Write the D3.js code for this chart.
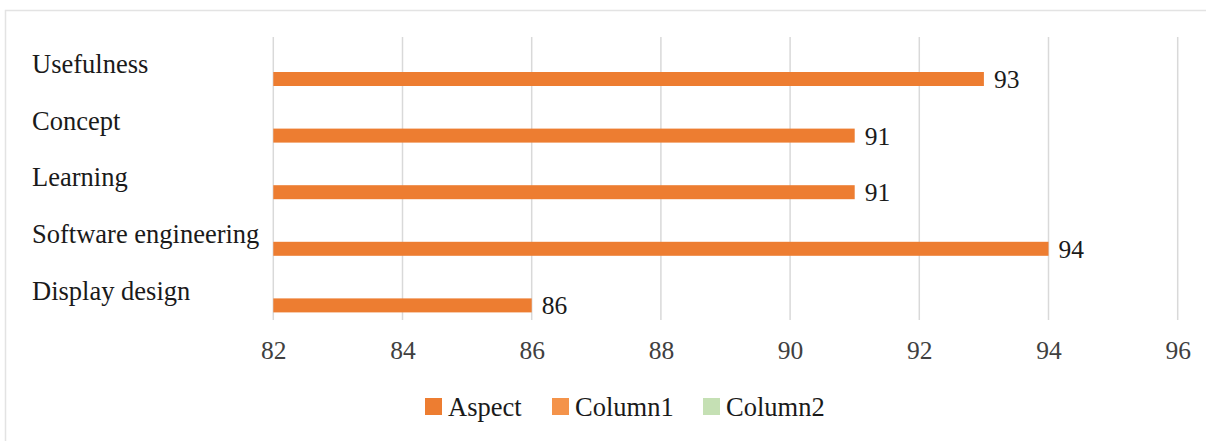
<!DOCTYPE html>
<html><head><meta charset="utf-8">
<script src="https://cdn.jsdelivr.net/npm/d3@7"></script>
<style>html,body{margin:0;padding:0;background:#fff;}svg{display:block;}</style>
</head><body>
<svg id="chart" width="1206" height="441"></svg>
<script>
const categories = ["Usefulness","Concept","Learning","Software engineering","Display design"];
const aspect = [93, 91, 91, 94, 86];
const column1 = [null, null, null, null, null];
const column2 = [null, null, null, null, null];
const seriesNames = ["Aspect","Column1","Column2"];
const seriesColors = ["#ED7D31","#F4934A","#C5E0B4"];
const xTicks = [82,84,86,88,90,92,94,96];

const svg = d3.select("#chart");
const font = "'Liberation Serif','Times New Roman',serif";

// chart border (top/left visible)
svg.append("rect").attr("x",5.5).attr("y",10.5).attr("width",1210).attr("height",440)
  .attr("fill","none").attr("stroke","#E3E3E3").attr("stroke-width",1.5);

const x = d3.scaleLinear().domain([82,96]).range([273.3,1177.7]);
const y = d3.scaleBand().domain(categories).range([37,320]).paddingInner(0).paddingOuter(0);
const inner = d3.scaleBand().domain(["Column2","Column1","Aspect"]).range([7,49]).paddingInner(0).paddingOuter(0);

// gridlines
svg.append("g").selectAll("line").data(xTicks).join("line")
  .attr("x1",d=>x(d)).attr("x2",d=>x(d)).attr("y1",37).attr("y2",320)
  .attr("stroke","#D9D9D9").attr("stroke-width",1.5);

// x axis tick labels
const xAxis = d3.axisBottom(x).tickValues(xTicks).tickSize(0).tickPadding(0);
const ax = svg.append("g").attr("transform","translate(0,340)").call(xAxis);
ax.select(".domain").remove();
ax.selectAll("text").attr("font-family",font).attr("font-size",25.5).attr("fill","#404040")
  .attr("dy","0.75em");

// category labels
svg.append("g").selectAll("text").data(categories).join("text")
  .attr("x",32).attr("y",d=>y(d)+y.bandwidth()/2)
  .attr("dy","0.3em")
  .attr("font-family",font).attr("font-size",26.5).attr("fill","#1a1a1a")
  .text(d=>d);

// bars
const series = [
  {name:"Aspect", values:aspect, color:seriesColors[0]},
  {name:"Column1", values:column1, color:seriesColors[1]},
  {name:"Column2", values:column2, color:seriesColors[2]}
];
series.forEach(s=>{
  const g = svg.append("g");
  categories.forEach((c,i)=>{
    const v = s.values[i];
    if (v==null) return;
    const by = y(c)+inner(s.name);
    g.append("rect").attr("x",x(82)).attr("y",by)
      .attr("width",x(v)-x(82)).attr("height",inner.bandwidth())
      .attr("fill",s.color);
    g.append("text").attr("x",x(v)+10).attr("y",by+inner.bandwidth()/2)
      .attr("dy","0.35em").attr("font-family",font).attr("font-size",25.5).attr("fill","#1a1a1a")
      .text(v);
  });
});

// legend
const legendX = [425, 552, 703];
const lg = svg.append("g");
seriesNames.forEach((n,i)=>{
  lg.append("rect").attr("x",legendX[i]).attr("y",398).attr("width",17).attr("height",17)
    .attr("fill",seriesColors[i]);
  lg.append("text").attr("x",legendX[i]+23).attr("y",406.5).attr("dy","0.35em")
    .attr("font-family",font).attr("font-size",26.5).attr("fill","#1a1a1a").text(n);
});
</script>
</body></html>
